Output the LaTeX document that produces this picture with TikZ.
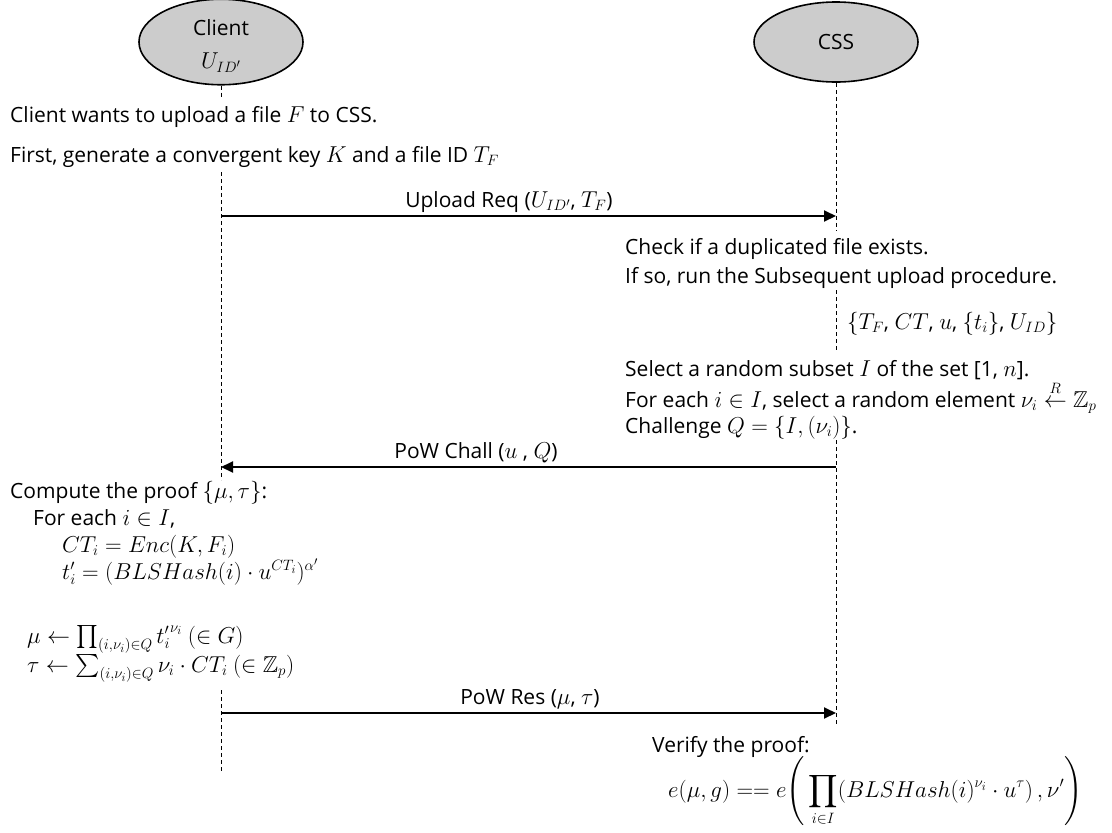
\RequirePackage{fix-cm}
\documentclass[tikz,border=0pt]{standalone}
\usepackage{amsmath,amssymb}
\usepackage[no-math]{fontspec}
\setmainfont{Open Sans}
\DeclareMathSizes{21}{23}{15}{12}
\usetikzlibrary{arrows.meta,shapes.geometric}
\begin{document}
\begin{tikzpicture}[x=1pt,y=-1pt,
  every node/.style={font=\fontsize{21}{27}\selectfont},
  actor/.style={ellipse,draw,line width=1.6pt,fill=gray!40,minimum width=164pt,minimum height=80pt,inner sep=0pt,align=center},
  life/.style={dash pattern=on 4pt off 3pt,line width=0.8pt},
  msg/.style={line width=2pt,-{Triangle[length=12pt,width=11pt]}},
  txt/.style={anchor=base west,inner sep=0pt},
  lbl/.style={anchor=base,inner sep=0pt}]
\useasboundingbox (0,0) rectangle (1112,833);

% actors
\node[actor] (client) at (221,42) {\rule{0pt}{24pt}Client\\[6pt]$U_{ID'}$};
\node[actor] (css) at (836,42) {CSS};

% lifeline coordinates
\coordinate (c0) at (221,98);
\coordinate (c1) at (221,172);
\coordinate (c2) at (221,480);
\coordinate (c3) at (221,690);
\coordinate (c4) at (221,773);
\coordinate (s0) at (836,230);
\coordinate (s1) at (836,290);
\coordinate (s2) at (836,352);
\coordinate (s3) at (836,440);
\coordinate (s4) at (836,724);

\draw[life] (client.south) -- (c0);
\draw[life] (c1) -- (c2);
\draw[life] (c3) -- (c4);
\draw[life] (css.south) -- (s0);
\draw[life] (s1) -- (s2);
\draw[life] (s3) -- (s4);

% message coordinates
\coordinate (cu) at (221,216);
\coordinate (su) at (836,216);
\coordinate (cc) at (221,467);
\coordinate (sc) at (836,467);
\coordinate (cr) at (221,713);
\coordinate (sr) at (836,713);

\draw[msg] (cu) -- (su);
\draw[msg] (sc) -- (cc);
\draw[msg] (cr) -- (sr);

\node[lbl] (m1) at (509,207) {Upload Req ($U_{ID'}$, $T_F$)};
\node[lbl] (m2) at (476,458) {PoW Chall ($u$ , $Q$)};
\node[lbl] (m3) at (530,704) {PoW Res ($\mu$, $\tau$)};

% client texts
\node[txt] (t1) at (10,122) {Client wants to upload a file $F$ to CSS.};
\node[txt] (t2) at (10,162) {First, generate a convergent key $K$ and a file ID $T_F$};

% css texts
\node[txt] (t3) at (625,254) {Check if a duplicated file exists.};
\node[txt] (t4) at (625,283) {If so, run the Subsequent upload procedure.};
\node[txt] (t5) at (847,329) {$\{T_F$, $CT$, $u$, $\{t_i\}$, $U_{ID}\}$};
\node[txt] (t6) at (625,376) {Select a random subset $I$ of the set [1, $n$].};
\node[txt] (t7) at (625,407) {For each $i\in I$, select a random element $\nu_i \overset{R}{\leftarrow} \mathbb{Z}_p$};
\node[txt] (t8) at (625,433) {Challenge $Q=\{I,(\nu_i)\}$.};

% proof computation
\node[txt] (t9) at (10,498) {Compute the proof $\{\mu,\tau\}$:};
\node[txt] (t10) at (33,525) {For each $i\in I$,};
\node[txt] (t11) at (62,552) {$CT_i = Enc(K,F_i)$};
\node[txt] (t12) at (62,579) {$t'_i = (BLSHash(i)\cdot u^{CT_i})^{\alpha'}$};
\node[txt] (t13) at (27,643) {$\mu \leftarrow \prod_{(i,\nu_i)\in Q} {t'_i}^{\nu_i}\ (\in G)$};
\node[txt] (t14) at (27,672) {$\tau \leftarrow \sum_{(i,\nu_i)\in Q} \nu_i\cdot CT_i\ (\in\mathbb{Z}_p)$};

% verification
\node[txt] (t15) at (652,752) {Verify the proof:};
\node[txt] (t16) at (668,797) {$\displaystyle e(\mu,g) == e\Bigg(\prod_{i\in I}(BLSHash(i)^{\nu_i}\cdot u^{\tau})\,,\nu'\Bigg)$};
\end{tikzpicture}
\end{document}
